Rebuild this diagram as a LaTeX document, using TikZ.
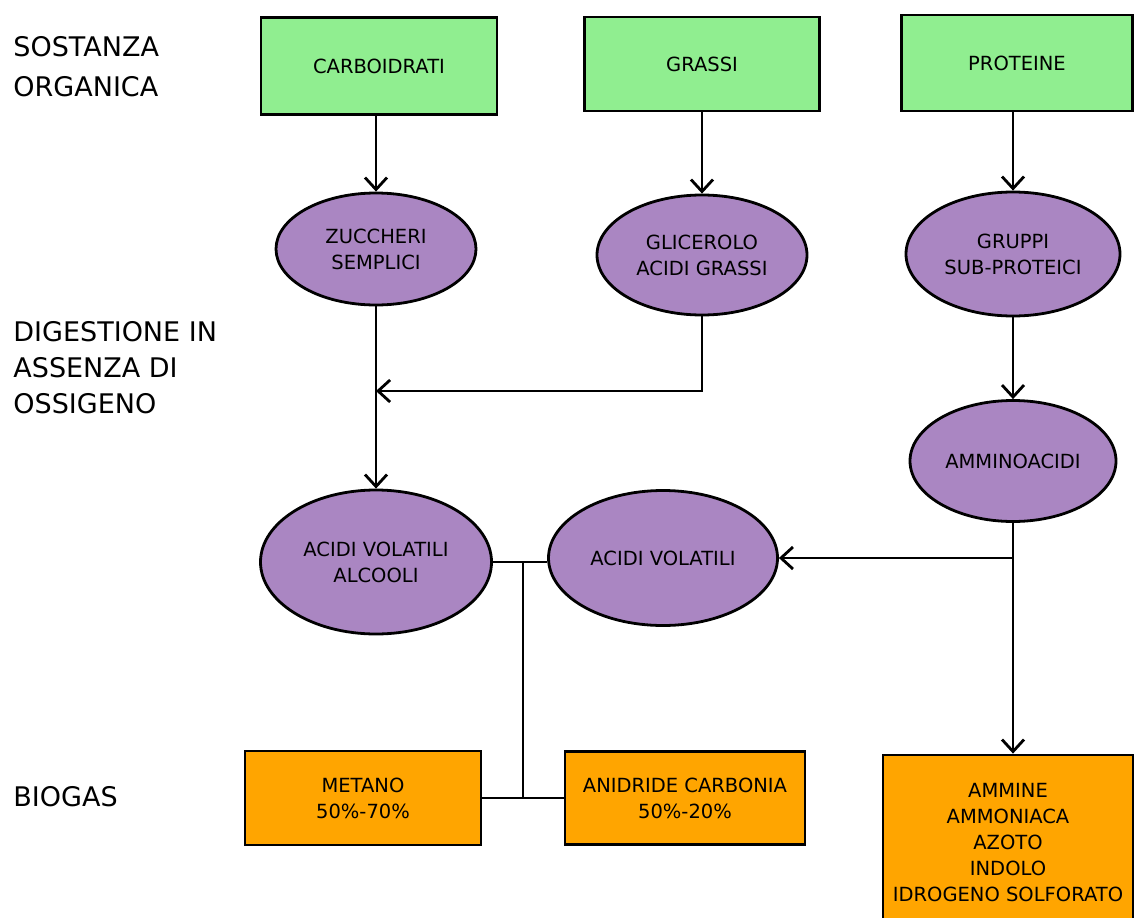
\documentclass[tikz,border=0pt]{standalone}
\usepackage{fontspec}
\setmainfont{DejaVu Sans}
\usetikzlibrary{arrows.meta, shapes.geometric}

\definecolor{organic}{RGB}{144,238,144}
\definecolor{stage}{RGB}{170,134,194}
\definecolor{product}{RGB}{255,165,0}

\begin{document}
\begin{tikzpicture}[x=1pt, y=-1pt, line width=2.8pt,
        box/.style={draw, rectangle, line width=2.8pt, inner sep=0pt, align=center,
            font=\fontsize{19.5}{26}\selectfont},
        blob/.style={draw, ellipse, line width=2.8pt, fill=stage, inner sep=0pt, align=center,
            font=\fontsize{19.5}{26}\selectfont},
        side/.style={anchor=west, inner sep=0pt, align=left,
            font=\fontsize{27}{36}\selectfont},
        arr/.style={-{Straight Barb[length=12pt, width=22pt, line width=2.8pt]}}]
                \useasboundingbox (0,0) rectangle (1135,918);

                % Row labels:
                \node[side, font=\fontsize{27}{40}\selectfont] (lorg) at (12,67) {SOSTANZA\\ORGANICA};
                \node[side] (ldig) at (12,368) {DIGESTIONE IN\\ASSENZA DI\\OSSIGENO};
                \node[side] (lbio) at (12,797) {BIOGAS};

                % Organic matter:
                \node[box, fill=organic, minimum width=236pt, minimum height=97pt] (carb) at (379,66) {CARBOIDRATI};
                \node[box, fill=organic, minimum width=235pt, minimum height=94pt] (grassi) at (702,64) {GRASSI};
                \node[box, fill=organic, minimum width=231pt, minimum height=96pt] (prot) at (1017,63) {PROTEINE};

                % Digestion stages:
                \node[blob, minimum width=200pt, minimum height=112pt] (zucc) at (376,249) {ZUCCHERI\\SEMPLICI};
                \node[blob, minimum width=210pt, minimum height=120pt] (glic) at (702,255) {GLICEROLO\\ACIDI GRASSI};
                \node[blob, minimum width=214pt, minimum height=124pt] (grup) at (1013,254) {GRUPPI\\SUB-PROTEICI};
                \node[blob, minimum width=206pt, minimum height=121pt] (ammino) at (1013,461) {AMMINOACIDI};
                \node[blob, minimum width=231pt, minimum height=144pt] (alc) at (376,562) {ACIDI VOLATILI\\ALCOOLI};
                \node[blob, minimum width=229pt, minimum height=135pt] (vola) at (663,558) {ACIDI VOLATILI};

                % Biogas:
                \node[box, fill=product, minimum width=236pt, minimum height=94pt] (metano) at (363,798) {METANO\\50\%-70\%};
                \node[box, fill=product, minimum width=240pt, minimum height=93pt] (anid) at (685,798) {ANIDRIDE CARBONIA\\50\%-20\%};
                \node[box, fill=product, minimum width=250pt, minimum height=176pt] (ammine) at (1008,843)
                    {AMMINE\\AMMONIACA\\AZOTO\\INDOLO\\IDROGENO SOLFORATO};

                % Arrows:
                \coordinate (merge) at (376,391);
                \coordinate (split) at (1013,558);
                \coordinate (tee) at (523,561);
                \draw[arr] (carb.south -| zucc.north) -- (zucc.north);
                \draw[arr] (grassi) -- (glic);
                \draw[arr] (prot.south -| grup.north) -- (grup.north);
                \draw[arr] (grup) -- (ammino);
                \draw[arr] (zucc) -- (alc);
                \draw[arr] (glic.south) |- (merge);
                \draw[arr] (ammino.south) -- (ammino.south |- ammine.north);
                \draw[arr] (split) -- (vola.east);

                % Biogas links:
                \draw (alc.east) -- (alc.east -| vola.west);
                \draw (tee) -- (tee |- metano.east);
                \draw (metano.east) -- (anid.west);
            \end{tikzpicture}
\end{document}
